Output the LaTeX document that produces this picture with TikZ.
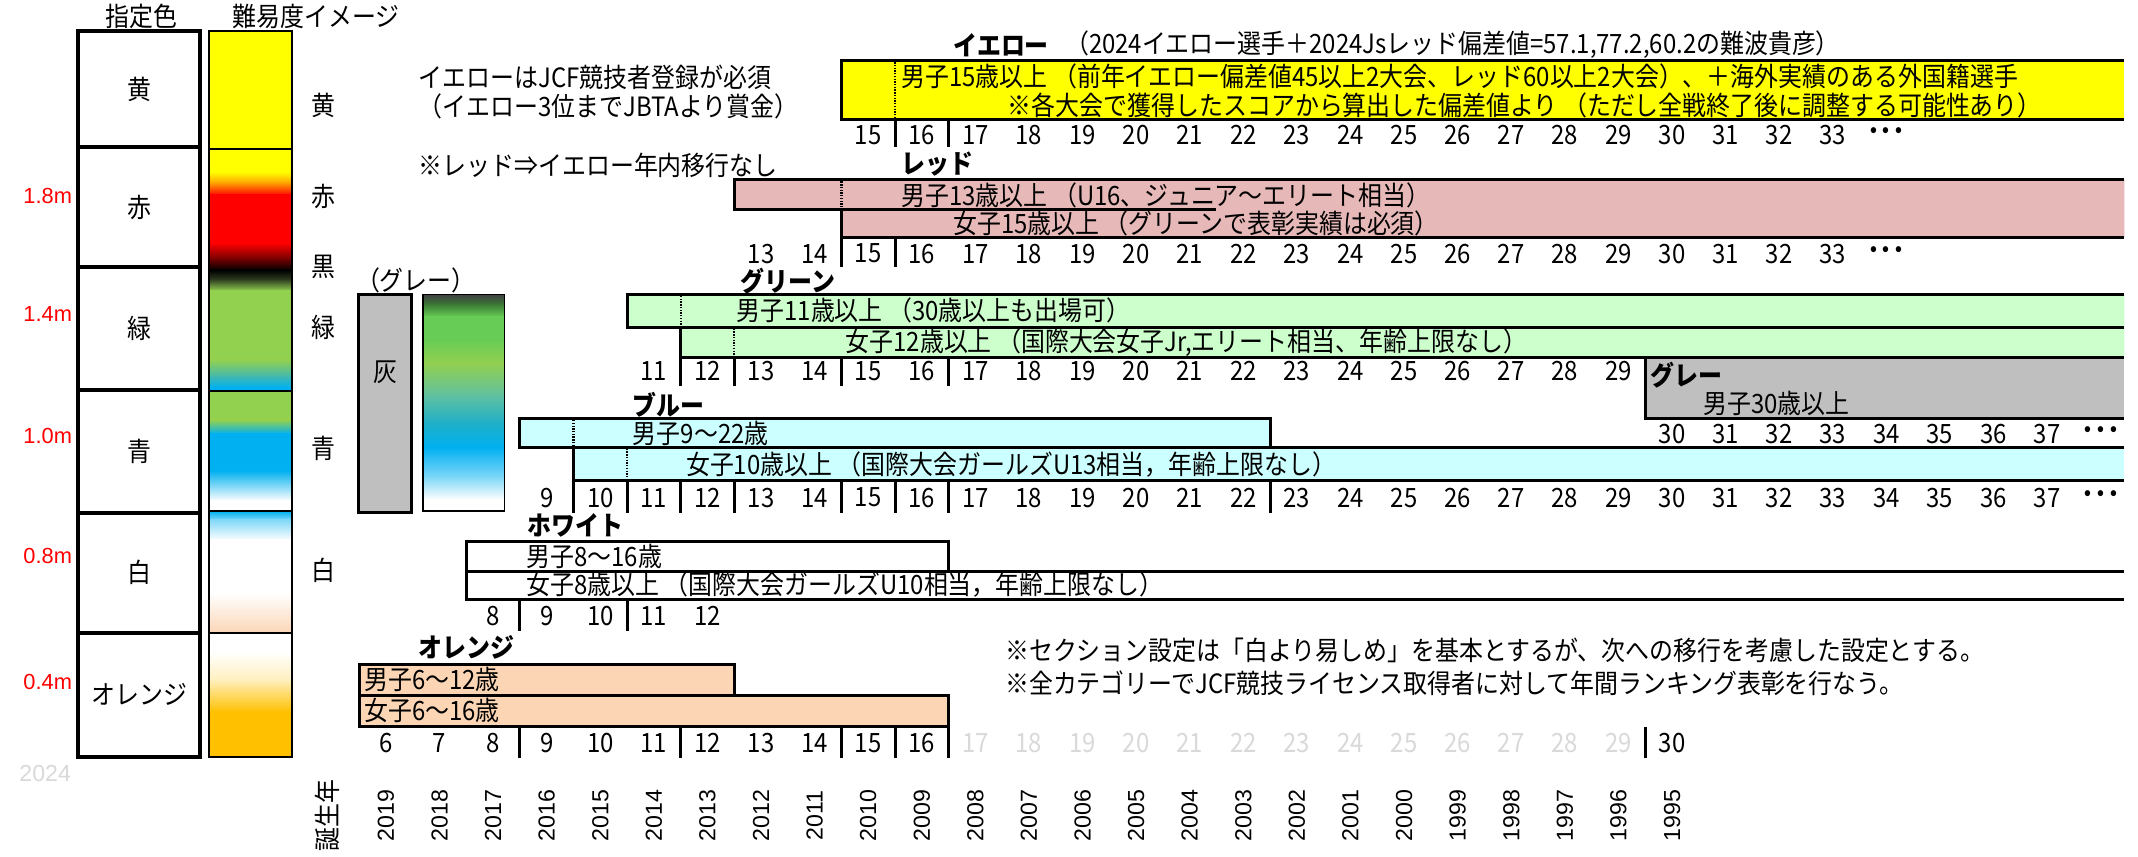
\documentclass[tikz,border=0pt]{standalone}
\usepackage{fontspec}
\setmainfont{Noto Sans CJK JP}
\newfontfamily\jp{Noto Sans CJK JP}[FakeStretch=0.9]
\newfontfamily\ar{Liberation Sans}
\definecolor{yel}{HTML}{FFFF00}
\definecolor{redbg}{HTML}{E6B8B7}
\definecolor{grnbg}{HTML}{CCFFCC}
\definecolor{blubg}{HTML}{CCFFFF}
\definecolor{gry}{HTML}{BFBFBF}
\definecolor{orabg}{HTML}{FCD5B4}
\definecolor{lgt}{HTML}{D9D9D9}
\definecolor{cY}{HTML}{FFFF00}
\definecolor{cO}{HTML}{FFA000}
\definecolor{cR}{HTML}{FF0000}
\definecolor{cDR}{HTML}{700000}
\definecolor{cK}{HTML}{000000}
\definecolor{cDk}{HTML}{304020}
\definecolor{cG}{HTML}{92D050}
\definecolor{cT}{HTML}{40B8B0}
\definecolor{cB}{HTML}{00B0F0}
\definecolor{cLB}{HTML}{80D8F8}
\definecolor{cW}{HTML}{FFFFFF}
\definecolor{cP}{HTML}{FBD5B5}
\definecolor{cLY}{HTML}{FFF0C0}
\definecolor{cOr}{HTML}{FFC000}
\definecolor{cDG}{HTML}{3F3F3F}
\definecolor{cDG2}{HTML}{3A7A35}
\definecolor{cG2}{HTML}{66CC55}
\definecolor{cT2}{HTML}{60C0A0}
\definecolor{cT3}{HTML}{20B0C8}
\begin{document}
\begin{tikzpicture}[x=1pt,y=-1pt,
 declare function={L(\a)=263.4+(\a-6)*39.3; C(\a)=283.05+(\a-6)*39.3;},
 txt/.style={inner sep=0pt, font=\jp\fontsize{19.5}{22}\selectfont},
 lt/.style={txt, anchor=west},
 ttl/.style={inner sep=0pt, anchor=west, font=\jp\bfseries\fontsize{19.5}{22}\selectfont},
 num/.style={txt},
 dots/.style={inner sep=0pt, font=\jp\bfseries\fontsize{21}{22}\selectfont},
 lgnum/.style={txt, text=lgt},
 yr/.style={inner sep=0pt, rotate=90, font=\ar\fontsize{17}{19}\selectfont},
 redlab/.style={inner sep=0pt, anchor=east, text=red, font=\ar\fontsize{16}{18}\selectfont},
 bx/.style={draw=black, line width=2.2pt},
 tk/.style={line width=2.2pt},
 dt/.style={line width=1.6pt, dash pattern=on 1pt off 1pt},
 thin/.style={line width=1.3pt},
]
\useasboundingbox (0,0) rectangle (1568,628);
\fill[white] (0,0) rectangle (1568,628);

% ---------- left legend ----------
\node[txt] (h1) at (104,12) {指定色};
\node[txt] (h2) at (232,12) {難易度イメージ};
\foreach \ya/\yb/\lab/\nm in {23/108/黄/ly, 108/196/赤/lr, 196/286/緑/lg, 286/376/青/lb, 376/464/白/lw, 464/555/オレンジ/lo}{
  \draw[line width=3pt] (57,\ya) rectangle (147,\yb);
  \node[txt] (\nm) at (102,{(\ya+\yb)/2}) {\lab};
}
\node[redlab] (m18) at (53,144) {1.8m};
\node[redlab] (m14) at (53,230) {1.4m};
\node[redlab] (m10) at (53,320) {1.0m};
\node[redlab] (m08) at (53,408) {0.8m};
\node[redlab] (m04) at (53,500) {0.4m};
\node[inner sep=0pt, anchor=west, text=lgt, font=\ar\fontsize{17}{19}\selectfont] (y24) at (14,567) {2024};

% gradient column
\fill[cY] (153,23) rectangle (214,109);
\foreach \ya/\yb/\ca/\cb in {109/126/cY/cY, 126/134/cY/cO, 134/143/cO/cR, 143/178/cR/cR, 178/190/cR/cDR, 190/198/cDR/cK, 198/205/cK/cDk, 205/213/cDk/cG, 213/264/cG/cG, 264/276/cG/cT, 276/284/cT/cB, 284/287/cB/cB,
  287/308/cG/cG, 308/318/cG/cB, 318/345/cB/cB, 345/367/cB/cW, 367/375/cW/cW,
  375/381/cB/cLB, 381/396/cLB/cW, 396/435/cW/cW, 435/464/cW/cP,
  464/478/cW/cW, 478/498/cW/cLY, 498/522/cLY/cOr, 522/555/cOr/cOr}{
  \shade[top color=\ca, bottom color=\cb] (153,\ya) rectangle (214,{\yb+0.5});
}
\foreach \ya/\yb in {23/109, 109/287, 287/375, 375/464, 464/555}{
  \draw[thin] (153,\ya) rectangle (214,\yb);
}
\node[txt] (gy) at (237,77) {黄};
\node[txt] (gr) at (237,144) {赤};
\node[txt] (gk) at (237,196) {黒};
\node[txt] (gg) at (237,240) {緑};
\node[txt] (gb) at (237,329) {青};
\node[txt] (gw) at (237,418) {白};

% gray legend
\node[txt] (grt) at (305,206) {（グレー）};
\draw[bx, fill=gry] (263,216) rectangle (302,376);
\node[txt] (hai) at (283,273) {灰};
\foreach \ya/\yb/\ca/\cb in {216/223/cDG/cDG2, 223/232/cDG2/cG2, 232/248/cG2/cG2, 248/266/cG2/cG, 266/290/cG/cT2, 290/310/cT2/cT3, 310/328/cT3/cB, 328/350/cB/cLB, 350/366/cLB/cW, 366/375/cW/cW}{
  \shade[top color=\ca, bottom color=\cb] (310,\ya) rectangle (370,{\yb+0.5});
}
\draw[thin] (310,216) rectangle (370,375);

% ---------- notes ----------
\node[lt] (n1) at (307,57) {イエローはJCF競技者登録が必須};
\node[lt] (n2) at (307,78) {（イエロー3位までJBTAより賞金）};
\node[lt] (n3) at (307,121) {※レッド⇒イエロー年内移行なし};
\node[lt] (n4) at (737,477) {※セクション設定は「白より易しめ」を基本とするが、次への移行を考慮した設定とする。};
\node[lt] (n5) at (737,501) {※全カテゴリーでJCF競技ライセンス取得者に対して年間ランキング表彰を行なう。};

% ---------- yellow ----------
\node[ttl] (tY) at (699,33) {イエロー};
\node[lt] (tY2) at (781,33) {（2024イエロー選手＋2024Jsレッド偏差値=57.1,77.2,60.2の難波貴彦）};
\fill[yel] ({L(15)},44.5) rectangle (1558,87.5);
\draw[bx] (1558,44.5) -- ({L(15)},44.5) -- ({L(15)},87.5) -- (1558,87.5);
\draw[dt] ({L(16)},45.6) -- ({L(16)},86.4);
\node[lt] (y1) at (661,56) {男子15歳以上 （前年イエロー偏差値45以上2大会、レッド60以上2大会）、＋海外実績のある外国籍選手};
\node[lt] (y2) at (739,77) {※各大会で獲得したスコアから算出した偏差値より （ただし全戦終了後に調整する可能性あり）};
\foreach \a in {15,...,33} \node[num] at ({C(\a)},99) {\a};
\node[dots] (dY) at ({C(34)},99) {･･･};
\foreach \a in {16,17} \draw[tk] ({L(\a)},87.5) -- ({L(\a)},108);

% ---------- red ----------
\node[ttl] (tR) at (661,120) {レッド};
\fill[redbg] ({L(13)},132) -- (1558,132) -- (1558,174) -- ({L(15)},174) -- ({L(15)},154) -- ({L(13)},154) -- cycle;
\draw[bx] (1558,132) -- ({L(13)},132) -- ({L(13)},154) -- (892,154);
\draw[bx] ({L(15)},154) -- ({L(15)},174) -- (1558,174);
\draw[dt] ({L(15)},133.1) -- ({L(15)},152.9);
\node[lt] (r1) at (661,143) {男子13歳以上 （U16、ジュニア～エリート相当）};
\node[lt] (r2) at (699,164) {女子15歳以上 （グリーンで表彰実績は必須）};
\foreach \a in {13,...,33} \node[num] at ({C(\a)},186) {\a};
\node[dots] (dR) at ({C(34)},186) {･･･};
\foreach \a in {15,16} \draw[tk] ({L(\a)},174) -- ({L(\a)},196);

% ---------- green ----------
\node[ttl] (tG) at (543,206) {グリーン};
\fill[grnbg] ({L(11)},216) -- (1558,216) -- (1558,262) -- ({L(12)},262) -- ({L(12)},240) -- ({L(11)},240) -- cycle;
\draw[bx] (1558,216) -- ({L(11)},216) -- ({L(11)},240) -- (1558,240);
\draw[bx] ({L(12)},240) -- ({L(12)},262) -- (1558,262);
\draw[dt] ({L(12)},217.1) -- ({L(12)},238.9);
\draw[dt] ({L(13)},241.1) -- ({L(13)},260.9);
\node[lt] (g1) at (540,228) {男子11歳以上 （30歳以上も出場可）};
\node[lt] (g2) at (620,251) {女子12歳以上 （国際大会女子Jr,エリート相当、年齢上限なし）};
\foreach \a in {11,...,29} \node[num] at ({C(\a)},272) {\a};
\foreach \a in {12,13,15,17} \draw[tk] ({L(\a)},262) -- ({L(\a)},283);

% ---------- gray ----------
\fill[gry] ({L(30)},263.1) rectangle (1558,306.6);
\draw[bx] ({L(30)},262) -- ({L(30)},306.6) -- (1558,306.6);
\node[ttl] (tGr) at (1210,275) {グレー};
\node[lt] (gr1) at (1249,296) {男子30歳以上};
\foreach \a in {30,...,37} \node[num] at ({C(\a)},318) {\a};
\node[dots] (dGr) at ({C(38)},318) {･･･};

% ---------- blue ----------
\node[ttl] (tB) at (464,297) {ブルー};
\fill[blubg] ({L(9)},307) rectangle ({L(23)},328);
\fill[blubg] ({L(10)},328) rectangle (1558,352.5);
\draw[bx] ({L(9)},307) rectangle ({L(23)},328);
\draw[bx] (1558,328) -- ({L(10)},328) -- ({L(10)},352.5) -- (1558,352.5);
\draw[dt] ({L(10)},308.1) -- ({L(10)},326.9);
\draw[dt] ({L(11)},329.1) -- ({L(11)},351.4);
\node[lt] (b1) at (464,318) {男子9～22歳};
\node[lt] (b2) at (503,341) {女子10歳以上 （国際大会ガールズU13相当，年齢上限なし）};
\foreach \a in {9,...,37} \node[num] at ({C(\a)},365) {\a};
\node[dots] (dB) at ({C(38)},365) {･･･};
\foreach \a in {10,11,12,13,15,16,17,23} \draw[tk] ({L(\a)},352.5) -- ({L(\a)},376);

% ---------- white ----------
\node[ttl] (tW) at (387,385) {ホワイト};
\draw[bx] ({L(8)},397) rectangle ({L(17)},419);
\draw[bx] (1558,419) -- ({L(8)},419) -- ({L(8)},439.5) -- (1558,439.5);
\node[lt] (w1) at (386,408) {男子8～16歳};
\node[lt] (w2) at (386,429) {女子8歳以上 （国際大会ガールズU10相当，年齢上限なし）};
\foreach \a in {8,...,12} \node[num] at ({C(\a)},452) {\a};
\foreach \a in {9,11} \draw[tk] ({L(\a)},439.5) -- ({L(\a)},463);

% ---------- orange ----------
\node[ttl] (tO) at (307,475) {オレンジ};
\draw[bx, fill=orabg] ({L(6)},487) rectangle ({L(13)},510);
\draw[bx, fill=orabg] ({L(6)},510) rectangle ({L(17)},533);
\node[lt] (o1) at (267,498) {男子6～12歳};
\node[lt] (o2) at (267,521) {女子6～16歳};
\foreach \a in {6,...,16} \node[num] at ({C(\a)},545) {\a};
\foreach \a in {17,...,29} \node[lgnum] at ({C(\a)},545) {\a};
\node[num] (o30) at ({C(30)},545) {30};
\foreach \a in {9,12,15,16,17,30} \draw[tk] ({L(\a)},533) -- ({L(\a)},556);

% ---------- birth years ----------
\node[txt, rotate=90] (by) at (240,598) {誕生年};
\foreach \a in {6,...,30}{
  \pgfmathtruncatemacro\yrv{2025-\a}
  \node[yr] at ({C(\a)},598) {\yrv};
}
\end{tikzpicture}
\end{document}
